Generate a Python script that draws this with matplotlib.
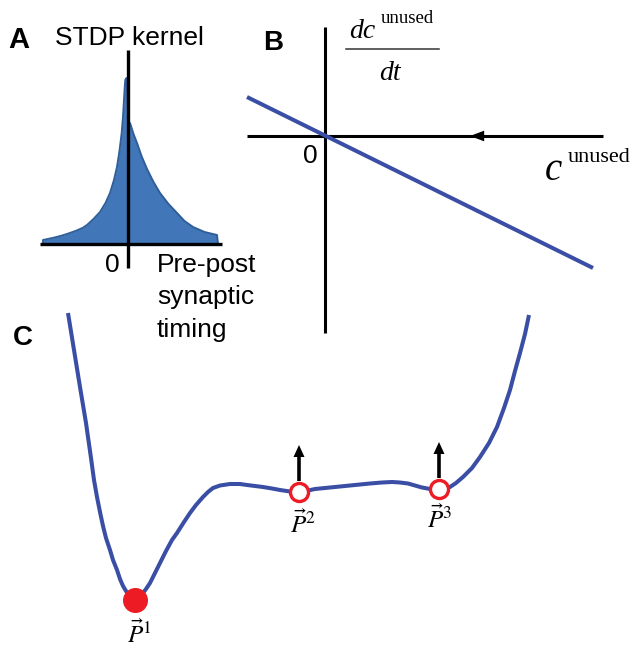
import matplotlib
matplotlib.use("Agg")
import matplotlib.pyplot as plt

W, H = 637, 648
plt.rcParams["mathtext.fontset"] = "stix"
SANS = "Liberation Sans"
SERIF = "Liberation Serif"

# ---- Panel A: STDP kernel (timing vs. weight change) ----
kernel_t_left = [-84.5, -75, -67, -60.5, -52, -45, -40.5, -34, -27.5, -22, -17.5,
                 -13.5, -10.5, -8, -5.8, -4.5, -3.5, -2.8, -2.2, -1.0]
kernel_k_left = [4, 6, 8, 10, 13, 16, 19, 25, 32, 41, 51,
                 64, 77, 93, 111, 127, 144, 156, 164, 166]
kernel_t_right = [1.0, 2.5, 6, 9.5, 14, 19.5, 26, 32.5, 41, 49.5, 57, 65.5, 77, 89.5, 90.5]
kernel_k_right = [121, 121, 110, 101, 88, 75, 62, 51, 40, 31, 23, 17, 12, 9, 0]

# ---- Panel B: linear decay of the unused-synapse variable ----
c_unused = [-78, 268]
dc_dt = [39, -132]

# ---- Panel C: energy landscape with fixed points ----
land_x = [68, 74, 80, 86, 91, 94, 97, 100, 103, 106, 110, 113, 117, 120, 123,
          126, 129, 132, 135, 138, 141, 143, 146, 150, 155, 160, 166, 172, 177,
          184, 190, 196, 203, 208, 213, 220, 230, 240, 247, 255, 263, 272, 280,
          290, 298, 306, 315, 325, 340, 355, 370, 382, 392, 400, 408, 415, 422,
          430, 439, 446, 450, 456, 463, 472, 480, 489, 497, 504, 510, 515, 520,
          525, 529]
land_y = [335, 298, 261, 225, 190, 168, 151, 136, 122, 110, 98, 88, 78, 69, 62,
          57, 53, 50, 48, 49, 52, 55, 59, 65, 75, 85, 97, 108, 115,
          126, 135, 143, 151, 156, 160, 162.5, 164, 164, 163, 162, 161, 159.5, 158,
          156.5, 156, 157, 159, 160, 161.5, 163, 164.5, 165.5, 166, 165.5, 164.5, 162.5, 160.5,
          159, 159, 160, 161, 165, 171, 180, 191, 205, 221, 240, 258, 277, 295,
          314, 333]
stable_pt = (135, 48)
unstable_x = [299, 439]
unstable_y = [156, 159]

BLUE = "#3a4ea5"
RED = "#ed1c24"
FILL = "#4176b8"
EDGE = "#2f5e98"

fig = plt.figure(figsize=(W / 100, H / 100), dpi=100)


def panel(x0, y0, x1, y1, ox, oy):
    """Axes over the pixel box (x0,y0)-(x1,y1); data origin at pixel (ox, oy)."""
    ax = fig.add_axes([x0 / W, 1 - y1 / H, (x1 - x0) / W, (y1 - y0) / H])
    ax.set_xlim(x0 - ox, x1 - ox)
    ax.set_ylim(oy - y1, oy - y0)
    ax.axis("off")
    return ax


def label(x, y, s, **kw):
    fig.text(x / W, 1 - y / H, s, **kw)


# Panel A
axA = panel(0, 0, 260, 340, 127.5, 244)
tA = [kernel_t_left[0]] + kernel_t_left + kernel_t_right
kA = [0] + kernel_k_left + kernel_k_right
axA.fill_between(tA, kA, 0, color=FILL, lw=0, zorder=1)
axA.plot(tA, kA, color=EDGE, lw=1.4, zorder=2, solid_joinstyle="round")
axA.plot([-87.5, 94.5], [0, 0], color="k", lw=2.4, solid_capstyle="butt", zorder=3)
axA.plot([0, 0], [-24, 194], color="k", lw=2.4, solid_capstyle="butt", zorder=3)

label(19, 48, "A", fontsize=21, fontweight="bold", family=SANS, ha="center", va="baseline")
label(55, 45, "STDP kernel", fontsize=19, family=SANS, ha="left", va="baseline")
label(112, 272, "0", fontsize=19, family=SANS, ha="center", va="baseline")
for yb, line in zip([272, 304, 337], ["Pre-post", "synaptic", "timing"]):
    label(157, yb, line, fontsize=19, family=SANS, ha="left", va="baseline")

# Panel B
axB = panel(240, 0, 637, 340, 325, 136)
axB.plot([-78, 278], [0, 0], color="k", lw=2.2, solid_capstyle="butt", zorder=2)
axB.plot([0, 0], [-197, 109], color="k", lw=2.2, solid_capstyle="butt", zorder=2)
axB.annotate("", xy=(145, 0), xytext=(165, 0),
             arrowprops=dict(arrowstyle="-|>,head_length=0.85,head_width=0.32",
                             color="k", lw=0, shrinkA=0, shrinkB=0,
                             mutation_scale=12),
             zorder=3)
axB.plot(c_unused, dc_dt, color=BLUE, lw=2.9, solid_capstyle="butt", zorder=4)
axB.plot([21, 114], [87, 87], color="#333333", lw=1.1, zorder=2)

label(273, 50, "B", fontsize=20, fontweight="bold", family=SANS, ha="center", va="baseline")
label(310, 163, "0", fontsize=19, family=SANS, ha="center", va="baseline")
label(349, 38, "dc", fontsize=20, family=SERIF, style="italic", ha="left", va="baseline")
label(381, 23, "unused", fontsize=13.5, family=SERIF, ha="left", va="baseline")
label(379, 80, "dt", fontsize=20, family=SERIF, style="italic", ha="left", va="baseline")
label(545, 180, "c", fontsize=28, family=SERIF, style="italic", ha="left", va="baseline")
label(568, 162, "unused", fontsize=16, family=SERIF, ha="left", va="baseline")

# Panel C
axC = panel(0, 300, 637, 648, 0, 648)
axC.plot(land_x, land_y, color=BLUE, lw=2.9, solid_joinstyle="round",
         solid_capstyle="butt", zorder=2)
axC.plot(*stable_pt, "o", ms=17, color=RED, mec=RED, zorder=4)
axC.plot(unstable_x, unstable_y, "o", ms=13, mfc="white", mec=RED, mew=2.4,
         ls="none", zorder=4)
for ux, uy in zip(unstable_x, unstable_y):
    axC.arrow(ux, uy + 11, 0, 36, width=3.6, head_width=11, head_length=12,
              length_includes_head=True, color="k", lw=0, zorder=3)

label(23, 345, "C", fontsize=20, fontweight="bold", family=SANS, ha="center", va="baseline")
for (px, py), n in zip([(127, 643), (290, 533), (427, 528)], ["1", "2", "3"]):
    label(px, py, r"$\vec{P}^{%s}$" % n, fontsize=18, ha="left", va="baseline")

fig.savefig("out.png", dpi=100)
